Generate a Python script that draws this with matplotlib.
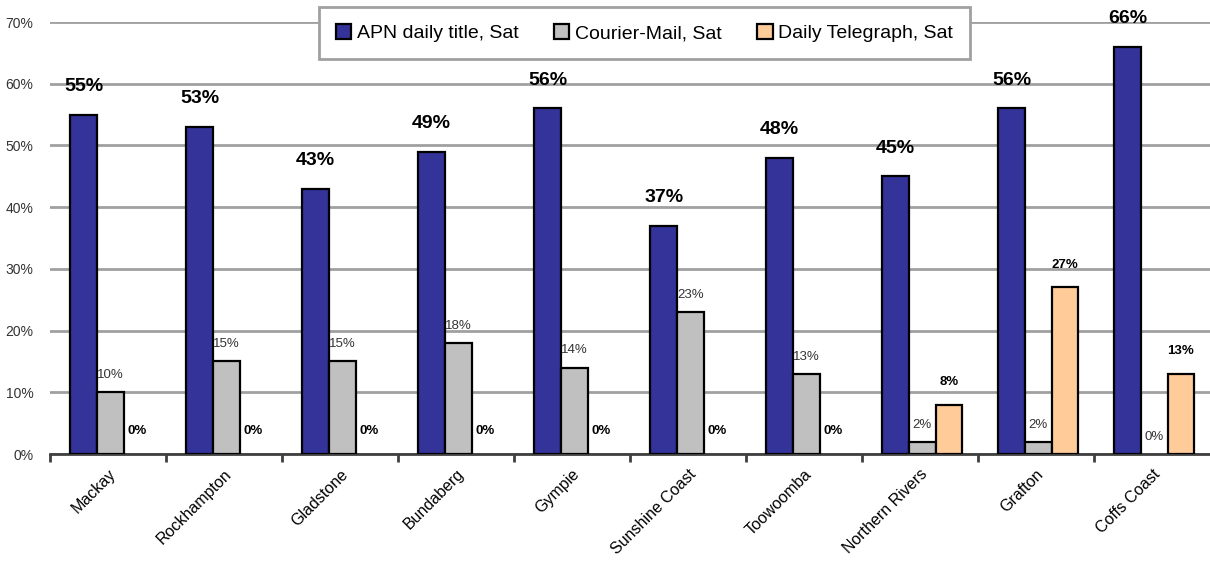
import matplotlib.pyplot as plt
import numpy as np

plt.rcParams['font.family'] = ['Liberation Sans Narrow', 'Liberation Sans', 'DejaVu Sans']

# Data
regions = ['Mackay', 'Rockhampton', 'Gladstone', 'Bundaberg', 'Gympie',
           'Sunshine Coast', 'Toowoomba', 'Northern Rivers', 'Grafton', 'Coffs Coast']
apn = [55, 53, 43, 49, 56, 37, 48, 45, 56, 66]
courier = [10, 15, 15, 18, 14, 23, 13, 2, 2, 0]
telegraph = [0, 0, 0, 0, 0, 0, 0, 8, 27, 13]
series_names = ['APN daily title, Sat', 'Courier-Mail, Sat', 'Daily Telegraph, Sat']

fig = plt.figure(figsize=(12.1, 5.68), dpi=100)
ax = fig.add_axes([50 / 1210, 114 / 568, 1 - 50 / 1210, (454 - 22) / 568])

x = np.arange(len(regions))
w = 0.23


def edge_widths(vals):
    # zero-height bars are not outlined in the original
    return [1.6 if v > 0 else 0 for v in vals]


b1 = ax.bar(x - w + 0.02, apn, w, color='#333399', edgecolor='black',
            linewidth=edge_widths(apn), label=series_names[0], zorder=3)
b2 = ax.bar(x + 0.02, courier, w, color='#C0C0C0', edgecolor='black',
            linewidth=edge_widths(courier), label=series_names[1], zorder=3)
b3 = ax.bar(x + w + 0.02, telegraph, w, color='#FFCC99', edgecolor='black',
            linewidth=edge_widths(telegraph), label=series_names[2], zorder=3)

ax.bar_label(b1, labels=[f'{v}%' for v in apn], padding=14, fontsize=14,
             fontweight='bold', color='black')
ax.bar_label(b2, labels=[f'{v}%' for v in courier], padding=8, fontsize=9.5,
             color='#333333')
ax.bar_label(b3, labels=[f'{v}%' for v in telegraph], padding=12, fontsize=9.5,
             fontweight='bold', color='black')

ax.set_xlim(-0.5, len(regions) - 0.5)
ax.set_ylim(0, 70)
ax.set_yticks(range(0, 71, 10))
ax.set_yticklabels([f'{v}%' for v in range(0, 71, 10)], fontsize=10, color='#333333')
ax.yaxis.grid(True, color='#A0A0A0', linewidth=2, zorder=0)
ax.tick_params(axis='y', length=0, pad=12)

ax.set_xticks(x)
ax.set_xticklabels(regions, rotation=45, ha='right', rotation_mode='anchor',
                   fontsize=11.5, color='black')
ax.tick_params(axis='x', length=0, pad=9)
ax.set_xticks(np.arange(len(regions)) - 0.5, minor=True)
ax.tick_params(axis='x', which='minor', length=6, width=2, color='#404040', direction='out')

for s in ['top', 'right', 'left']:
    ax.spines[s].set_visible(False)
ax.spines['bottom'].set_color('#404040')
ax.spines['bottom'].set_linewidth(2)

leg = ax.legend(loc='upper center', bbox_to_anchor=(0.5125, 1.034), ncol=3, fontsize=14,
                frameon=True, fancybox=False, edgecolor='#A0A0A0', framealpha=1,
                handlelength=0.8, handleheight=0.8, handletextpad=0.3, columnspacing=1.8,
                borderpad=0.85, borderaxespad=0)
leg.get_frame().set_linewidth(2)
for h in leg.legend_handles:
    h.set_linewidth(1.6)
    h.set_edgecolor('black')

fig.savefig('out.png', dpi=100)
